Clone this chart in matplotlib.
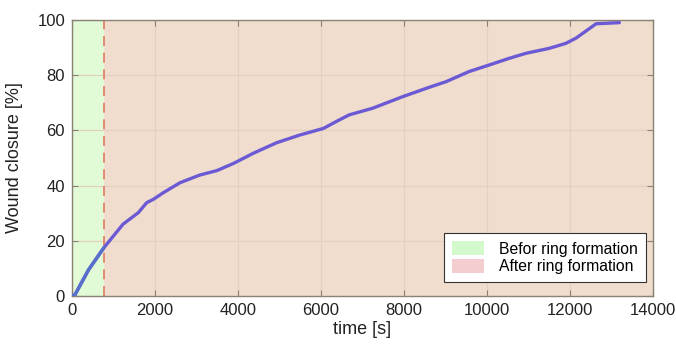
import numpy as np
import matplotlib
matplotlib.use("Agg")
import matplotlib.pyplot as plt
from matplotlib.patches import Patch

plt.rcParams['font.family'] = ['Liberation Sans', 'DejaVu Sans']

# wound closure measurement
time_s = [0, 70, 400, 770, 1230, 1600, 1800, 1960, 2200, 2600, 3080, 3490, 3890,
          4370, 4930, 5490, 6060, 6420, 6680, 7245, 7970, 8610, 9010, 9570,
          10060, 10540, 10940, 11500, 11900, 12145, 12630, 13190]
closure = [0.0, 0.4, 9.5, 17.5, 26.0, 30.2, 33.8, 35.0, 37.4, 41.0, 43.8, 45.4, 48.0,
           51.7, 55.5, 58.3, 60.7, 63.6, 65.6, 68.0, 72.2, 75.6, 77.6, 81.3,
           83.7, 86.1, 87.9, 89.7, 91.5, 93.4, 98.6, 99.0]
ring_time = 770
x_max = 14000

xticks = [0, 2000, 4000, 6000, 8000, 10000, 12000, 14000]
yticks = [0, 20, 40, 60, 80, 100]
legend_labels = ['Befor ring formation', 'After ring formation']

fig = plt.figure(figsize=(6.76, 3.49), dpi=100)
ax = fig.add_axes([0.1065, 0.152, 0.8595, 0.791])

green = '#e1fbd6'
pink = '#f1ddcd'
ax.axvspan(0, ring_time, color=green, zorder=0, lw=0)
ax.axvspan(ring_time, x_max, color=pink, zorder=0, lw=0)
ax.axvline(ring_time, color='#e07a62', ls=(0, (6, 4)), lw=1.2, zorder=2)

t = np.array(time_s)
c = np.array(closure)
ax.plot(t, c, color='#6c5ad4', lw=2.4, zorder=3, solid_capstyle='round')
seg = t <= ring_time
ax.plot(t[seg], c[seg], color='#5670cc', lw=2.4, zorder=3.5, solid_capstyle='round')

ax.set_xlim(0, x_max)
ax.set_ylim(0, 100)
ax.set_xticks(xticks)
ax.set_yticks(yticks)
ax.grid(True, color='#e3d0c0', lw=0.9, zorder=1)
ax.set_axisbelow(True)
ax.tick_params(direction='in', top=True, right=True, length=4, width=0.8,
               colors='#888070', labelcolor='#222222', labelsize=12, pad=5)
for s in ax.spines.values():
    s.set_color('#8a8272')
    s.set_linewidth(1.0)

ax.set_xlabel('time [s]', fontsize=13, color='#222222', labelpad=2)
ax.set_ylabel('Wound closure [%]', fontsize=13, color='#222222', labelpad=10)

handles = [Patch(facecolor='#d2f8cc', edgecolor='none'),
           Patch(facecolor='#f3cdd0', edgecolor='none')]
leg = ax.legend(handles, legend_labels, loc='lower right',
                bbox_to_anchor=(0.988, 0.05), fontsize=11.3, frameon=True,
                fancybox=False, edgecolor='#333333', framealpha=1,
                handlelength=2.0, handleheight=1.0, borderpad=0.5,
                labelspacing=0.15, handletextpad=1.0, borderaxespad=0)
leg.get_frame().set_linewidth(0.8)

fig.savefig('out.png', dpi=100)
